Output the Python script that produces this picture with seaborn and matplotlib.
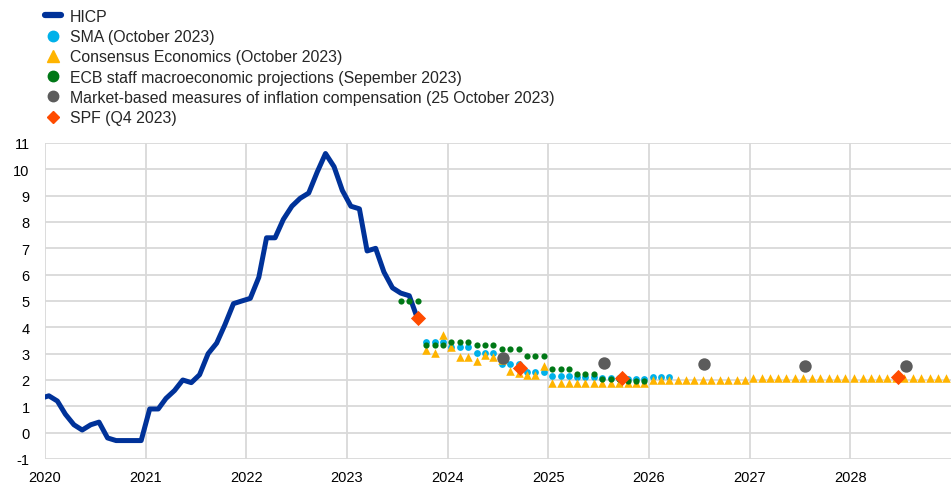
import numpy as np
import pandas as pd
import seaborn as sns
import matplotlib.pyplot as plt
from matplotlib.lines import Line2D

# HICP, annual % change (Dec 2019 - Sep 2023)
hicp_start, hicp_end = "2019-12-01", "2023-09-01"
hicp = [1.3,
        1.4, 1.2, 0.7, 0.3, 0.1, 0.3, 0.4, -0.2, -0.3, -0.3, -0.3, -0.3,
        0.9, 0.9, 1.3, 1.6, 2.0, 1.9, 2.2, 3.0, 3.4, 4.1, 4.9, 5.0,
        5.1, 5.9, 7.4, 7.4, 8.1, 8.6, 8.9, 9.1, 9.9, 10.6, 10.1, 9.2,
        8.6, 8.5, 6.9, 7.0, 6.1, 5.5, 5.3, 5.2, 4.3]

# SMA (October 2023), Oct 2023 - Mar 2026
sma_start, sma_end = "2023-10-01", "2026-03-01"
sma = [3.44, 3.44, 3.44, 3.27, 3.27, 3.27, 3.02, 3.02, 3.02,
       2.61, 2.61, 2.61, 2.30, 2.30, 2.30, 2.14, 2.14, 2.14,
       2.10, 2.10, 2.10, 2.06, 2.06, 2.06, 2.04, 2.04, 2.04,
       2.13, 2.13, 2.13]

# Consensus Economics (October 2023), Oct 2023 - Dec 2028
ce_start, ce_end = "2023-10-01", "2028-12-01"
consensus = [3.15, 3.03, 3.69,
             3.27, 2.87, 2.87, 2.74, 2.95, 2.87, 2.75, 2.36, 2.27, 2.20, 2.20, 2.55,
             1.9, 1.9, 1.9, 1.9, 1.9, 1.9, 1.9, 1.9, 1.9, 1.9, 1.9, 1.9,
             2.0, 2.0, 2.0, 2.0, 2.0, 2.0, 2.0, 2.0, 2.0, 2.0, 2.0, 2.0,
             2.08, 2.08, 2.08, 2.08, 2.08, 2.08, 2.08, 2.08, 2.08, 2.08, 2.08, 2.08,
             2.08, 2.08, 2.08, 2.08, 2.08, 2.08, 2.08, 2.08, 2.08, 2.08, 2.08, 2.08]

# ECB staff projections (September 2023), Jul 2023 - Dec 2025
ecb_start, ecb_end = "2023-07-01", "2025-12-01"
ecb = [5.0, 5.0, 5.0, 3.33, 3.33, 3.33,
       3.46, 3.46, 3.46, 3.33, 3.33, 3.33, 3.18, 3.18, 3.18, 2.93, 2.93, 2.93,
       2.42, 2.42, 2.42, 2.23, 2.23, 2.23, 2.04, 2.04, 2.04, 1.95, 1.95, 1.95]

# Market-based measures of inflation compensation (25 October 2023)
market_dates = ["2024-07-20", "2025-07-20", "2026-07-20", "2027-07-20", "2028-07-20"]
market = [2.83, 2.65, 2.59, 2.55, 2.52]

# SPF (Q4 2023)
spf_dates = ["2023-09-16", "2024-09-21", "2025-09-24", "2028-06-22"]
spf = [4.35, 2.47, 2.07, 2.13]

year_ticks = [str(y) for y in range(2020, 2029)]

labels = ["HICP", "SMA (October 2023)", "Consensus Economics (October 2023)",
          "ECB staff macroeconomic projections (Sepember 2023)",
          "Market-based measures of inflation compensation (25 October 2023)",
          "SPF (Q4 2023)"]

c_hicp, c_sma, c_ce, c_ecb, c_mkt, c_spf = "#003299", "#00B1EA", "#FFB400", "#007816", "#5C5C5C", "#FF4B00"


def monthly(start, end):
    return pd.date_range(start, end, freq="MS") + pd.Timedelta(days=14)


sns.set_theme(style="white")
plt.rcParams["font.family"] = ["Liberation Sans", "DejaVu Sans"]
plt.rcParams["axes.unicode_minus"] = False

fig = plt.figure(figsize=(9.51, 4.89), dpi=100)
ax = fig.add_axes([45 / 951, 1 - 460 / 489, 1 - 45 / 951, (460 - 144) / 489])

sns.lineplot(x=monthly(hicp_start, hicp_end), y=hicp, color=c_hicp, lw=3.6, ax=ax, zorder=3)
sns.scatterplot(x=monthly(sma_start, sma_end), y=sma, color=c_sma, s=24, linewidth=0, ax=ax, zorder=4)
sns.scatterplot(x=monthly(ce_start, ce_end), y=consensus, color=c_ce, marker="^", s=38, linewidth=0, ax=ax, zorder=5)
sns.scatterplot(x=monthly(ecb_start, ecb_end), y=ecb, color=c_ecb, s=20, linewidth=0, ax=ax, zorder=6)
sns.scatterplot(x=pd.to_datetime(market_dates), y=market, color=c_mkt, s=80, linewidth=0, ax=ax, zorder=7)
sns.scatterplot(x=pd.to_datetime(spf_dates), y=spf, color=c_spf, marker="D", s=60, linewidth=0, ax=ax, zorder=8)

ax.set_xlim(pd.Timestamp("2020-01-01"), pd.Timestamp("2029-01-01"))
ax.set_ylim(-1, 11)
ax.set_yticks(range(-1, 12))
ax.set_xticks(pd.to_datetime([y + "-01-01" for y in year_ticks]))
ax.set_xticklabels(year_ticks)
ax.grid(True, color="#d9d9d9", lw=1.3)
ax.set_axisbelow(True)
ax.tick_params(axis="y", length=0, pad=11, labelsize=10.5, labelcolor="#000000")
ax.tick_params(axis="x", length=0, pad=8, labelsize=10.5, labelcolor="#000000")
ax.set_xlabel("")
ax.set_ylabel("")
sns.despine(ax=ax, left=True, bottom=True)

handles = [
    Line2D([], [], color=c_hicp, lw=4.5),
    Line2D([], [], color=c_sma, marker="o", ls="", ms=7.5),
    Line2D([], [], color=c_ce, marker="^", ls="", ms=8),
    Line2D([], [], color=c_ecb, marker="o", ls="", ms=7.5),
    Line2D([], [], color=c_mkt, marker="o", ls="", ms=7.5),
    Line2D([], [], color=c_spf, marker="D", ls="", ms=6.5),
]
fig.legend(handles, labels, loc="upper left", bbox_to_anchor=(45 / 951, 1 - 10 / 489),
           frameon=False, fontsize=11.4, handlelength=1.0, handletextpad=0.57,
           labelspacing=0.33, borderpad=0, borderaxespad=0)

fig.savefig("out.png", dpi=100)
